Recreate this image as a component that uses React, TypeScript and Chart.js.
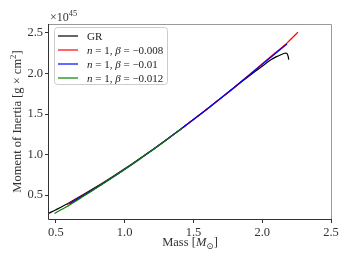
import React, { useEffect, useRef } from "react";
import { Chart, registerables } from "chart.js";

Chart.register(...registerables);

// ---- data (mass in solar masses, moment of inertia in 1e45 g cm^2) ----
const grMass = [0.45, 0.5, 0.6, 0.7, 0.8, 0.9, 1.0, 1.1, 1.2, 1.3, 1.4, 1.5, 1.6, 1.7, 1.8, 1.9, 1.95, 2.0, 2.05, 2.1, 2.14, 2.165, 2.18, 2.188, 2.193];
const grInertia = [0.275, 0.318, 0.408, 0.505, 0.607, 0.714, 0.824, 0.938, 1.056, 1.178, 1.303, 1.431, 1.562, 1.696, 1.83, 1.963, 2.028, 2.09, 2.155, 2.205, 2.235, 2.25, 2.245, 2.215, 2.17];

const redMass = [0.58, 0.6, 0.7, 0.8, 0.9, 1.0, 1.1, 1.2, 1.3, 1.4, 1.5, 1.6, 1.7, 1.8, 1.9, 2.0, 2.1, 2.15, 2.18, 2.2, 2.23, 2.26];
const redInertia = [0.38, 0.398, 0.496, 0.598, 0.706, 0.818, 0.934, 1.054, 1.177, 1.303, 1.431, 1.562, 1.697, 1.834, 1.976, 2.12, 2.262, 2.332, 2.375, 2.41, 2.46, 2.51];

const blueMass = [0.6, 0.7, 0.8, 0.9, 1.0, 1.1, 1.2, 1.3, 1.4, 1.5, 1.6, 1.7, 1.8, 1.9, 2.0, 2.1, 2.18];
const blueInertia = [0.392, 0.493, 0.596, 0.705, 0.817, 0.933, 1.054, 1.177, 1.303, 1.431, 1.562, 1.697, 1.834, 1.973, 2.113, 2.252, 2.365];

const greenMass = [0.49, 0.5, 0.6, 0.7, 0.8, 0.9, 1.0, 1.1, 1.2, 1.3, 1.42];
const greenInertia = [0.272, 0.282, 0.378, 0.484, 0.592, 0.703, 0.816, 0.933, 1.053, 1.176, 1.328];

const xTicks = [0.5, 1.0, 1.5, 2.0, 2.5];
const xTickLabels = ["0.5", "1.0", "1.5", "2.0", "2.5"];
const yTicks = [0.5, 1.0, 1.5, 2.0, 2.5];
const yTickLabels = ["0.5", "1.0", "1.5", "2.0", "2.5"];

const seriesNames = ["GR", "n = 1, β = −0.008", "n = 1, β = −0.01", "n = 1, β = −0.012"];
const seriesBetas = ["", "−0.008", "−0.01", "−0.012"];
const seriesColors = ["#000000", "#ff0000", "#0000ff", "#008000"];

const FONT = "'Liberation Serif', 'DejaVu Serif', serif";

type Seg = { t: string; it?: boolean; sup?: boolean; sub?: boolean };

function segFont(s: Seg, size: number) {
  const sz = s.sup || s.sub ? size * 0.7 : size;
  return `${s.it ? "italic " : ""}${sz}px ${FONT}`;
}

function richWidth(ctx: CanvasRenderingContext2D, segs: Seg[], size: number) {
  let w = 0;
  for (const s of segs) {
    ctx.font = segFont(s, size);
    w += ctx.measureText(s.t).width;
  }
  return w;
}

function drawRich(ctx: CanvasRenderingContext2D, segs: Seg[], x: number, y: number, size: number, color: string) {
  ctx.fillStyle = color;
  ctx.textBaseline = "alphabetic";
  ctx.textAlign = "left";
  let cx = x;
  for (const s of segs) {
    ctx.font = segFont(s, size);
    const dy = s.sup ? -size * 0.4 : s.sub ? size * 0.2 : 0;
    ctx.fillText(s.t, cx, y + dy);
    cx += ctx.measureText(s.t).width;
  }
}

function toPoints(xs: number[], ys: number[]) {
  return xs.map((x, i) => ({ x, y: ys[i] }));
}

const decorPlugin = {
  id: "decor",
  afterDatasetsDraw(chart: any) {
    const ctx: CanvasRenderingContext2D = chart.ctx;
    const a = chart.chartArea;
    ctx.save();
    // spines
    ctx.lineWidth = 1;
    ctx.strokeStyle = "#999999";
    ctx.beginPath();
    ctx.moveTo(a.left, a.top + 0.5);
    ctx.lineTo(a.right + 0.5, a.top + 0.5);
    ctx.lineTo(a.right + 0.5, a.bottom);
    ctx.stroke();
    ctx.strokeStyle = "#333333";
    ctx.beginPath();
    ctx.moveTo(a.left - 0.5, a.top);
    ctx.lineTo(a.left - 0.5, a.bottom + 0.5);
    ctx.lineTo(a.right + 1, a.bottom + 0.5);
    ctx.stroke();

    // legend
    const lx = 54.5, ly = 27.5, lw = 113, lh = 57, r = 3;
    ctx.beginPath();
    ctx.moveTo(lx + r, ly);
    ctx.lineTo(lx + lw - r, ly);
    ctx.arcTo(lx + lw, ly, lx + lw, ly + r, r);
    ctx.lineTo(lx + lw, ly + lh - r);
    ctx.arcTo(lx + lw, ly + lh, lx + lw - r, ly + lh, r);
    ctx.lineTo(lx + r, ly + lh);
    ctx.arcTo(lx, ly + lh, lx, ly + lh - r, r);
    ctx.lineTo(lx, ly + r);
    ctx.arcTo(lx, ly, lx + r, ly, r);
    ctx.closePath();
    ctx.fillStyle = "rgba(255,255,255,0.8)";
    ctx.fill();
    ctx.strokeStyle = "#cccccc";
    ctx.stroke();

    const rows = [36, 50, 64, 78];
    seriesNames.forEach((name, i) => {
      const y = rows[i];
      ctx.strokeStyle = seriesColors[i];
      ctx.lineWidth = 1.2;
      ctx.beginPath();
      ctx.moveTo(58, y);
      ctx.lineTo(78, y);
      ctx.stroke();
      const segs: Seg[] =
        i === 0
          ? [{ t: name }]
          : [{ t: "n", it: true }, { t: " = 1, " }, { t: "β", it: true }, { t: " = " + seriesBetas[i] }];
      drawRich(ctx, segs, 87, y + 3.8, 11, "#222222");
    });

    // offset label
    drawRich(ctx, [{ t: "×10" }, { t: "45", sup: true }], 50, 21, 12, "#333333");

    // x title
    const xt: Seg[] = [{ t: "Mass [" }, { t: "M", it: true }, { t: "⊙", sub: true }, { t: "]" }];
    const xw = richWidth(ctx, xt, 12.5);
    drawRich(ctx, xt, (a.left + a.right) / 2 - xw / 2, 246, 12.5, "#333333");

    // y title
    const yt: Seg[] = [{ t: "Moment of Inertia [g × cm" }, { t: "2", sup: true }, { t: "]" }];
    const yw = richWidth(ctx, yt, 12.5);
    ctx.translate(21, (a.top + a.bottom) / 2);
    ctx.rotate(-Math.PI / 2);
    drawRich(ctx, yt, -yw / 2, 0, 12.5, "#333333");
    ctx.restore();
  },
};

export default function App() {
  const ref = useRef<HTMLCanvasElement>(null);
  useEffect(() => {
    if (!ref.current) return;
    const mk = (label: string, xs: number[], ys: number[], color: string, order: number) => ({
      label,
      data: toPoints(xs, ys),
      borderColor: color,
      backgroundColor: color,
      borderWidth: 1.2,
      pointRadius: 0,
      showLine: true,
      fill: false,
      tension: 0.3,
      order,
    });
    const chart = new Chart(ref.current, {
      type: "scatter",
      data: {
        datasets: [
          mk(seriesNames[0], grMass, grInertia, seriesColors[0], 4),
          mk(seriesNames[1], redMass, redInertia, seriesColors[1], 3),
          mk(seriesNames[2], blueMass, blueInertia, seriesColors[2], 2),
          mk(seriesNames[3], greenMass, greenInertia, seriesColors[3], 1),
        ] as any,
      },
      options: {
        animation: false,
        responsive: false,
        maintainAspectRatio: false,
        devicePixelRatio: 1,
        layout: { padding: { left: 0, right: 21, top: 24, bottom: 0 } },
        plugins: { legend: { display: false }, tooltip: { enabled: false } },
        scales: {
          x: {
            type: "linear",
            min: 0.45,
            max: 2.5,
            afterBuildTicks: (s: any) => {
              s.ticks = xTicks.map((v) => ({ value: v }));
            },
            afterFit: (s: any) => {
              s.height = 45;
            },
            ticks: {
              callback: (_v: any, i: number) => xTickLabels[i],
              font: { family: FONT, size: 12.5 },
              color: "#333333",
              padding: 2,
              maxRotation: 0,
              autoSkip: false,
            },
            grid: { drawOnChartArea: false, drawTicks: true, tickLength: 4, color: "#333333" },
            border: { display: false },
          },
          y: {
            type: "linear",
            min: 0.204,
            max: 2.611,
            afterBuildTicks: (s: any) => {
              s.ticks = yTicks.map((v) => ({ value: v }));
            },
            afterFit: (s: any) => {
              s.width = 49;
            },
            ticks: {
              callback: (_v: any, i: number) => yTickLabels[i],
              font: { family: FONT, size: 12.5 },
              color: "#333333",
              padding: 2,
              autoSkip: false,
            },
            grid: { drawOnChartArea: false, drawTicks: true, tickLength: 4, color: "#333333" },
            border: { display: false },
          },
        },
      },
      plugins: [decorPlugin],
    });
    return () => chart.destroy();
  }, []);
  return (
    <div style={{ position: "absolute", left: 0, top: 0, width: 352, height: 264, background: "#fff" }}>
      <canvas ref={ref} width={352} height={264} style={{ width: 352, height: 264 }} />
    </div>
  );
}
